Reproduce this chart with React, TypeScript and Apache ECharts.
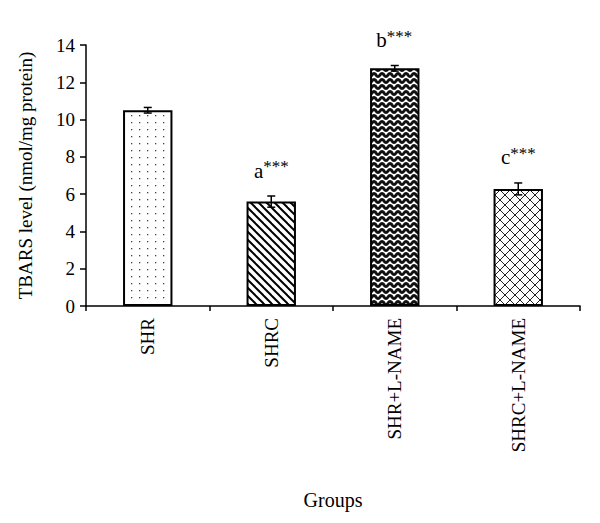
import React, { useEffect, useRef } from "react";
import * as echarts from "echarts";

const categories = ["SHR", "SHRC", "SHR+L-NAME", "SHRC+L-NAME"];
const means = [10.5, 5.6, 12.75, 6.28];
const errors = [0.15, 0.3, 0.15, 0.32];
const letters = ["", "a", "b", "c"];
const yTicks = [0, 2, 4, 6, 8, 10, 12, 14];

const FONT = "Liberation Serif";

function svgUrl(w: number, h: number, body: string) {
  const s = `<svg xmlns="http://www.w3.org/2000/svg" width="${w}" height="${h}" viewBox="0 0 ${w} ${h}">${body}</svg>`;
  return "data:image/svg+xml;charset=utf-8," + encodeURIComponent(s);
}

const patterns = [
  {
    image: svgUrl(8, 7, `<rect width="8" height="7" fill="#fff"/><rect x="3" y="3" width="1.3" height="1.3" fill="#444"/>`),
    w: 8,
    h: 7,
  },
  {
    image: svgUrl(
      8,
      8,
      `<rect width="8" height="8" fill="#fff"/><g stroke="#000" stroke-width="2"><line x1="-1" y1="-1" x2="9" y2="9"/><line x1="-5" y1="3" x2="5" y2="13"/><line x1="3" y1="-5" x2="13" y2="5"/></g>`
    ),
    w: 8,
    h: 8,
  },
  {
    image: svgUrl(
      8,
      6,
      `<rect width="8" height="6" fill="#fff"/><path d="M-4 3 Q-2 0 0 3 T4 3 T8 3 T12 3" fill="none" stroke="#111" stroke-width="3"/>`
    ),
    w: 8,
    h: 6,
  },
  {
    image: svgUrl(
      10,
      10,
      `<rect width="10" height="10" fill="#fff"/><g stroke="#222" stroke-width="1"><line x1="-1" y1="-1" x2="11" y2="11"/><line x1="11" y1="-1" x2="-1" y2="11"/></g>`
    ),
    w: 10,
    h: 10,
  },
];

export default function App() {
  const ref = useRef<HTMLDivElement>(null);
  useEffect(() => {
    if (!ref.current) return;
    const chart = echarts.init(ref.current, null, { renderer: "svg" });
    const barData = means.map((v, i) => ({
      value: v,
      itemStyle: {
        color: {
          image: patterns[i].image,
          repeat: "repeat",
          imageWidth: patterns[i].w,
          imageHeight: patterns[i].h,
        } as any,
        borderColor: "#000",
        borderWidth: 2,
      },
    }));
    const errData = means.map((v, i) => [i, v, errors[i], letters[i]]);
    chart.setOption({
      animation: false,
      backgroundColor: "#fff",
      textStyle: { fontFamily: FONT },
      grid: { left: 86, right: 20, top: 45, bottom: 217, containLabel: false },
      xAxis: {
        type: "category",
        data: categories,
        name: "Groups",
        nameLocation: "middle",
        nameGap: 184,
        nameTextStyle: { fontFamily: FONT, fontSize: 20, color: "#000" },
        axisLine: { lineStyle: { color: "#000", width: 1.5 } },
        axisTick: { show: true, length: 5, lineStyle: { color: "#000", width: 1.5 } },
        axisLabel: {
          rotate: 90,
          margin: 12,
          fontFamily: FONT,
          fontSize: 19,
          color: "#000",
        },
      },
      yAxis: {
        type: "value",
        min: yTicks[0],
        max: yTicks[yTicks.length - 1],
        interval: yTicks[1] - yTicks[0],
        name: "TBARS level (nmol/mg protein)",
        nameLocation: "middle",
        nameGap: 51,
        nameRotate: 90,
        nameTextStyle: { fontFamily: FONT, fontSize: 19, color: "#000" },
        axisLine: { show: true, lineStyle: { color: "#000", width: 1.5 } },
        axisTick: { show: true, length: 6, lineStyle: { color: "#000", width: 1.5 } },
        splitLine: { show: false },
        axisLabel: {
          fontFamily: FONT,
          fontSize: 19,
          color: "#000",
          margin: 11,
        },
      },
      series: [
        {
          type: "bar",
          data: barData,
          barWidth: "40%",
          z: 2,
        },
        {
          type: "custom",
          data: errData,
          z: 5,
          renderItem: (params: any, api: any) => {
            const x = api.value(0);
            const m = api.value(1);
            const e = api.value(2);
            const letter = errData[params.dataIndex][3] as string;
            const top = api.coord([x, m + e]);
            const bot = api.coord([x, m - e]);
            const cap = 4;
            const children: any[] = [
              { type: "line", shape: { x1: top[0], y1: top[1], x2: bot[0], y2: bot[1] }, style: { stroke: "#000", lineWidth: 1.5 } },
              { type: "line", shape: { x1: top[0] - cap, y1: top[1], x2: top[0] + cap, y2: top[1] }, style: { stroke: "#000", lineWidth: 1.5 } },
              { type: "line", shape: { x1: bot[0] - cap, y1: bot[1], x2: bot[0] + cap, y2: bot[1] }, style: { stroke: "#000", lineWidth: 1.5 } },
            ];
            if (letter) {
              children.push({
                type: "text",
                style: {
                  x: top[0] - 8,
                  y: top[1] - 15,
                  text: letter,
                  fontFamily: FONT,
                  fontSize: 21,
                  fill: "#000",
                  align: "right",
                  verticalAlign: "bottom",
                },
              });
              children.push({
                type: "text",
                style: {
                  x: top[0] - 8,
                  y: top[1] - 21,
                  text: "***",
                  fontFamily: FONT,
                  fontSize: 17,
                  fill: "#000",
                  align: "left",
                  verticalAlign: "bottom",
                },
              });
            }
            return { type: "group", children };
          },
        },
      ],
    });
    return () => chart.dispose();
  }, []);
  return <div ref={ref} style={{ width: 600, height: 523, margin: -8 }} />;
}
